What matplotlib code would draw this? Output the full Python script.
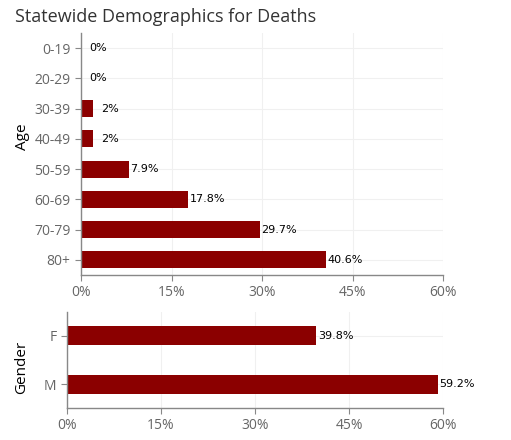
import matplotlib.pyplot as plt
from matplotlib.ticker import FuncFormatter

age_groups = ['0-19', '20-29', '30-39', '40-49', '50-59', '60-69', '70-79', '80+']
age_pct = [0, 0, 2, 2, 7.9, 17.8, 29.7, 40.6]
age_text = ['0%', '0%', '2%', '2%', '7.9%', '17.8%', '29.7%', '40.6%']

genders = ['F', 'M']
gender_pct = [39.8, 59.2]
gender_text = ['39.8%', '59.2%']

xticks = [0, 15, 30, 45, 60]
bar_color = '#8b0000'
grey = '#666666'
W, H = 511, 440

plt.rcParams['font.family'] = ['Open Sans', 'DejaVu Sans']

fig = plt.figure(figsize=(W / 100, H / 100), dpi=100)

def box(l, t, r, b):
    return [l / W, 1 - b / H, (r - l) / W, (b - t) / H]

ax1 = fig.add_axes(box(81, 33, 443, 275))
ax2 = fig.add_axes(box(67, 312, 443, 408))

def style(ax):
    ax.set_xlim(0, 60)
    ax.set_xticks(xticks)
    ax.xaxis.set_major_formatter(FuncFormatter(lambda v, p: '%d%%' % v))
    for s in ['top', 'right']:
        ax.spines[s].set_visible(False)
    for s in ['left', 'bottom']:
        ax.spines[s].set_color('#888888')
        ax.spines[s].set_linewidth(1)
    ax.tick_params(colors='#888888', labelcolor=grey, labelsize=10, length=4)
    ax.grid(True, color='#f0f0f0', linewidth=0.8)
    ax.set_axisbelow(True)

def label(ax, vals, texts):
    for i, (v, t) in enumerate(zip(vals, texts)):
        pad = 6 if v < 5 else 1
        ax.annotate(t, (v, i), xytext=(pad, 0), textcoords='offset points',
                    va='center', ha='left', fontsize=8, color='black',
                    family='DejaVu Sans')

# age panel
y1 = range(len(age_groups))
ax1.barh(y1, age_pct, height=0.57, color=bar_color)
ax1.set_yticks(list(y1))
ax1.set_yticklabels(age_groups)
ax1.set_ylim(len(age_groups) - 0.5, -0.5)
style(ax1)
label(ax1, age_pct, age_text)

# gender panel
y2 = range(len(genders))
ax2.barh(y2, gender_pct, height=0.37, color=bar_color)
ax2.set_yticks(list(y2))
ax2.set_yticklabels(genders)
ax2.set_ylim(1.48, -0.48)
style(ax2)
label(ax2, gender_pct, gender_text)

fig.text(15 / W, 1 - 17 / H, 'Statewide Demographics for Deaths', fontsize=13,
         color='#333333', va='center', ha='left')
fig.text(22 / W, 1 - 137 / H, 'Age', rotation=90, fontsize=11,
         color='black', va='center', ha='center')
fig.text(22 / W, 1 - 367 / H, 'Gender', rotation=90, fontsize=11,
         color='black', va='center', ha='center')

fig.savefig('out.png', dpi=100)
